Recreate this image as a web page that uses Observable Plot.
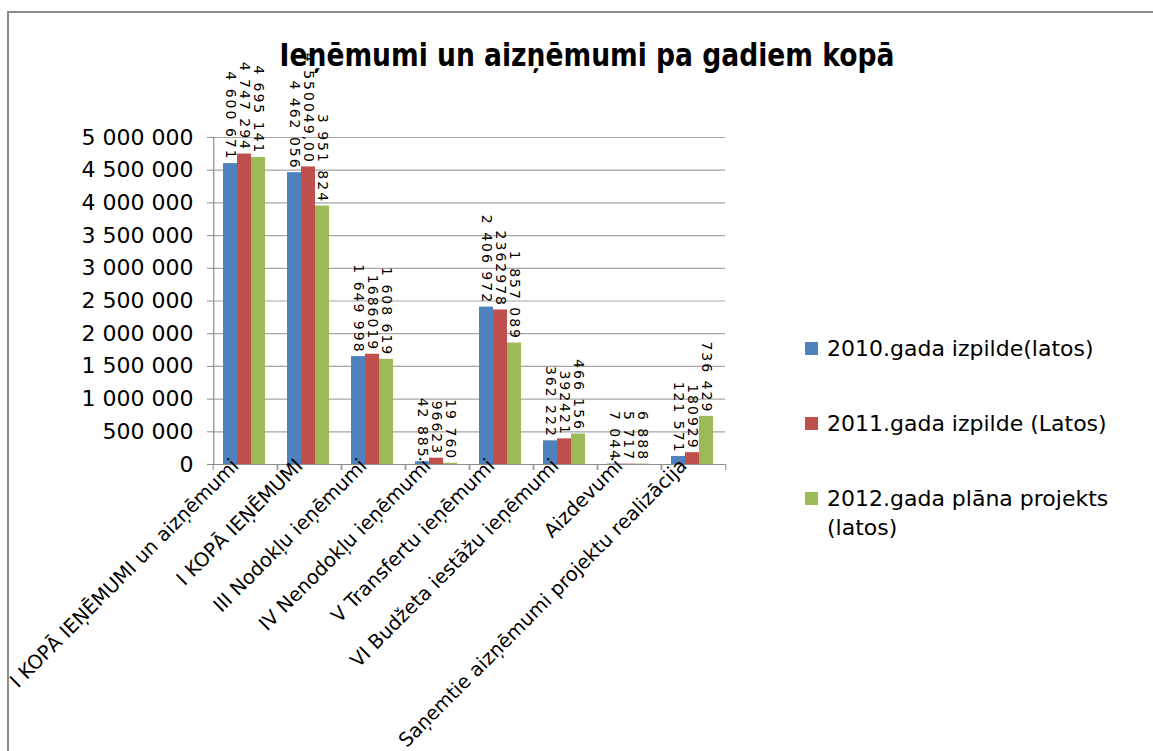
<!DOCTYPE html>
<html>
<head>
<meta charset="utf-8">
<script src="https://cdn.jsdelivr.net/npm/d3@7"></script>
<script src="https://cdn.jsdelivr.net/npm/@observablehq/plot@0.6"></script>
<style>
  html, body { margin: 0; padding: 0; background: #fff; }
  #wrap { position: relative; width: 1153px; height: 751px; overflow: hidden; background: #fff; font-family: "DejaVu Sans", sans-serif; }
  #border { position: absolute; left: 7px; top: 11px; width: 1200px; height: 800px; border-left: 2px solid #8c8c8c; border-top: 2px solid #8c8c8c; }
  #title { position: absolute; left: 587px; top: 55px; transform: translate(-50%, -50%) scaleX(0.83); font-weight: bold; font-size: 32px; white-space: nowrap; color: #000; }
  #chart { position: absolute; left: 0; top: 0; }
  #legend { position: absolute; left: 805px; top: 0; }
  .item { position: absolute; left: 0; display: flex; align-items: flex-start; font-size: 22px; color: #000; }
  .sw { width: 13px; height: 13px; margin-right: 9px; flex: none; }
  .lbl { width: 300px; line-height: 29px; }
  g[aria-label="text"] text { letter-spacing: 2px; }
</style>
</head>
<body>
<div id="wrap">
  <div id="border"></div>
  <div id="chart"></div>
  <div id="title">Ieņēmumi un aizņēmumi pa gadiem kopā</div>
  <div id="legend"></div>
</div>
<script>
const categories = [
  "I KOPĀ IEŅĒMUMI un aizņēmumi",
  "I KOPĀ IEŅĒMUMI",
  "III Nodokļu ieņēmumi",
  "IV Nenodokļu ieņēmumi",
  "V Transfertu ieņēmumi",
  "VI Budžeta iestāžu ieņēmumi",
  "Aizdevumi",
  "Saņemtie aizņēmumi projektu realizācija"
];
const seriesNames = ["2010.gada izpilde(latos)", "2011.gada izpilde (Latos)", "2012.gada plāna projekts (latos)"];
const seriesColors = ["#4f81bd", "#c0504d", "#9bbb59"];

const values2010 = [4600671, 4462056, 1649998, 42885, 2406972, 362222, 7044, 121571];
const values2011 = [4747294, 4550049, 1686019, 96623, 2362978, 392421, 5717, 180929];
const values2012 = [4695141, 3951824, 1608619, 19760, 1857089, 466156, 6888, 736429];

const labels2010 = ["4 600 671", "4 462 056", "1 649 998", "42 885", "2 406 972", "362 222", "7 044", "121 571"];
const labels2011 = ["4 747 294", "4 550049,00", "1686019", "96623", "2362978", "392421", "5 717", "180929"];
const labels2012 = ["4 695 141", "3 951 824", "1 608 619", "19 760", "1 857 089", "466 156", "6 888", "736 429"];

const yTicks = [0, 500000, 1000000, 1500000, 2000000, 2500000, 3000000, 3500000, 4000000, 4500000, 5000000];

const allValues = [values2010, values2011, values2012];
const allLabels = [labels2010, labels2011, labels2012];
const data = [];
categories.forEach((c, i) => {
  seriesNames.forEach((s, j) => {
    data.push({cat: c, series: s, value: allValues[j][i], label: allLabels[j][i]});
  });
});

const fmt = d => d3.format(",")(d).replace(/,/g, " ");

const W = 740, H = 751, ML = 210, MR = 13, MT = 137, MB = 287;
const facetW = (W - ML - MR) / categories.length;
const xPadOuter = 0.73, xAlign = 0.45;
const xStep = facetW / (seriesNames.length + 2 * xPadOuter);
const firstCenter = (facetW - seriesNames.length * xStep) * xAlign + xStep / 2;

const chart = Plot.plot({
  width: W, height: H,
  marginLeft: ML, marginRight: MR, marginTop: MT, marginBottom: MB,
  style: {fontFamily: "DejaVu Sans", background: "transparent", overflow: "visible"},
  fx: {domain: categories, paddingInner: 0, paddingOuter: 0, label: null},
  x: {domain: seriesNames, paddingInner: 0, paddingOuter: xPadOuter, align: xAlign, axis: null},
  y: {domain: [0, 5000000], label: null},
  color: {domain: seriesNames, range: seriesColors},
  marks: [
    Plot.gridY(yTicks, {stroke: "#a6a6a6", strokeOpacity: 1, strokeWidth: 1.2}),
    Plot.barY(data, {fx: "cat", x: "series", y: "value", fill: "series"}),
    Plot.ruleY([0], {stroke: "#8c8c8c", strokeWidth: 1.2}),
    Plot.ruleX(data.filter(d => d.cat === categories[0] && d.series === seriesNames[0]), {fx: "cat", x: "series", dx: -firstCenter, stroke: "#8c8c8c", strokeWidth: 1.2}),
    Plot.text(data, {fx: "cat", x: "series", y: "value", text: "label", rotate: 90, textAnchor: "end", dy: -3, fontSize: 14, fill: "#000"}),
    Plot.axisY(yTicks, {tickSize: 6, tickPadding: 14, fontSize: 22, tickFormat: fmt, stroke: "#8c8c8c", fill: "#000", label: null}),
    Plot.axisFx({anchor: "bottom", tickSize: 6, fill: "none", dx: -facetW / 2, stroke: "#8c8c8c", label: null}),
    Plot.axisFx({anchor: "bottom", tickSize: 6, fill: "none", dx: facetW / 2, stroke: "#8c8c8c", label: null}),
    Plot.axisFx({anchor: "bottom", tickSize: 0, tickPadding: 0, tickRotate: -45, dx: -10, dy: -2, fontSize: 19.5, fill: "#000", stroke: "none", label: null})
  ]
});
document.getElementById("chart").appendChild(chart);

const legend = document.getElementById("legend");
const legendTops = [334, 409, 484];
seriesNames.forEach((s, j) => {
  const item = document.createElement("div");
  item.className = "item";
  item.style.top = legendTops[j] + "px";
  const sw = document.createElement("div");
  sw.className = "sw";
  sw.style.background = seriesColors[j];
  sw.style.marginTop = "8px";
  const lbl = document.createElement("div");
  lbl.className = "lbl";
  lbl.textContent = s;
  item.appendChild(sw);
  item.appendChild(lbl);
  legend.appendChild(item);
});
</script>
</body>
</html>
